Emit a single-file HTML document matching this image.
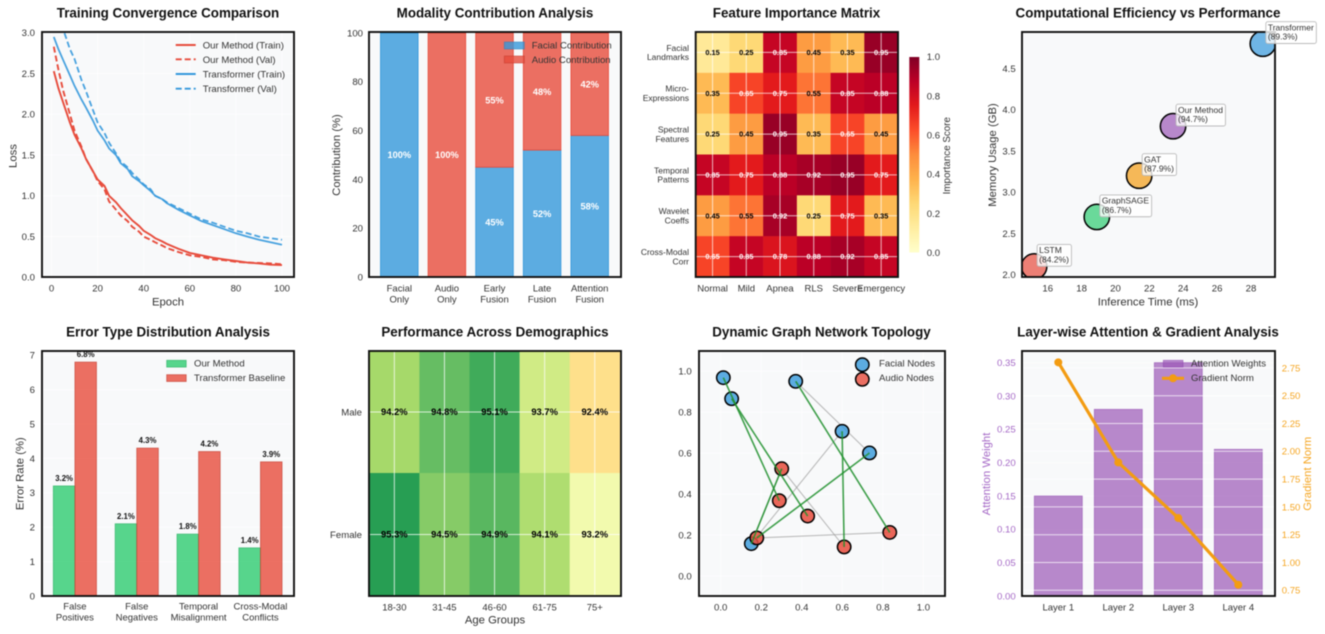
<!DOCTYPE html>
<html lang="en">
<head>
<meta charset="utf-8">
<title>Model Analysis Dashboard</title>
<style>
html,body{margin:0;padding:0;background:#fff;width:1325px;height:634px;overflow:hidden}
svg{display:block;filter:blur(.5px)}
text{font-family:"Liberation Sans",Arial,sans-serif;fill:#333}
.title{font-size:13.4px;font-weight:bold;fill:#111;text-anchor:middle}
.axl{font-size:11.3px;text-anchor:middle;fill:#333}
.tick{font-size:9.6px;fill:#333}
.leg{font-size:9.6px;fill:#333}
.cat{font-size:9.5px;text-anchor:middle;fill:#333}
.frame{fill:none;stroke:#111;stroke-width:1.9}
.bg{fill:#f8f9fa}
</style>
</head>
<body>
<svg id="dash" xmlns="http://www.w3.org/2000/svg" width="1325" height="634" viewBox="0 0 1325 634">
<defs>
<clipPath id="clip-p1"><rect x="42" y="32" width="252" height="245"/></clipPath>
<clipPath id="clip-p4"><rect x="1022" y="32" width="253" height="245"/></clipPath>
<linearGradient id="cbar" x1="0" y1="1" x2="0" y2="0">
<stop offset="0" stop-color="#ffffcc"/><stop offset=".125" stop-color="#ffeda0"/><stop offset=".25" stop-color="#fed976"/><stop offset=".375" stop-color="#feb24c"/><stop offset=".5" stop-color="#fd8d3c"/><stop offset=".625" stop-color="#fc4e2a"/><stop offset=".75" stop-color="#e31a1c"/><stop offset=".875" stop-color="#bd0026"/><stop offset="1" stop-color="#800026"/>
</linearGradient>
</defs>

<g id="p1">
<text class="title" x="168" y="17.5">Training Convergence Comparison</text>
<rect class="bg" x="42" y="32" width="252" height="245"/>
<g id="p1-marks"></g>
<rect class="frame" x="42" y="32" width="252" height="245"/>
<text class="axl" transform="translate(16.5,156) rotate(-90)">Loss</text>
<text class="axl" x="168" y="305.7">Epoch</text>
<g>
<line x1="175.7" x2="195.7" y1="45" y2="45" stroke="#e74c3c" stroke-width="1.9"/>
<line x1="175.7" x2="195.7" y1="59.3" y2="59.3" stroke="#e74c3c" stroke-width="1.9" stroke-dasharray="6 3"/>
<line x1="175.7" x2="195.7" y1="74" y2="74" stroke="#3498db" stroke-width="1.9"/>
<line x1="175.7" x2="195.7" y1="88.7" y2="88.7" stroke="#3498db" stroke-width="1.9" stroke-dasharray="6 3"/>
<text class="leg" x="202.7" y="48.5">Our Method (Train)</text>
<text class="leg" x="202.7" y="63">Our Method (Val)</text>
<text class="leg" x="202.7" y="77.5">Transformer (Train)</text>
<text class="leg" x="202.7" y="92">Transformer (Val)</text>
</g>
</g>

<g id="p2">
<text class="title" x="495" y="17.5">Modality Contribution Analysis</text>
<rect class="bg" x="369" y="32" width="252" height="245"/>
<g id="p2-marks"></g>
<rect class="frame" x="369" y="32" width="252" height="245"/>
<text class="axl" transform="translate(340,155) rotate(-90)">Contribution (%)</text>
<g>
<rect x="504.3" y="42" width="20" height="7" fill="#3498db" fill-opacity=".8" stroke="#2980b9" stroke-opacity=".6" stroke-width=".8"/>
<rect x="504.3" y="56" width="20" height="7" fill="#e74c3c" fill-opacity=".8" stroke="#c0392b" stroke-opacity=".6" stroke-width=".8"/>
<text class="leg" x="531.7" y="48.5">Facial Contribution</text>
<text class="leg" x="531.7" y="63">Audio Contribution</text>
</g>
</g>

<g id="p3">
<text class="title" x="796.5" y="17.5">Feature Importance Matrix</text>
<g id="p3-marks"></g>
<rect class="frame" x="695.7" y="32" width="202.3" height="245"/>
<rect x="909.3" y="57" width="10" height="195.5" fill="url(#cbar)"/>
<g id="p3-cbar"></g>
<text class="leg" style="font-size:9.8px" text-anchor="middle" transform="translate(950,155.7) rotate(-90)">Importance Score</text>
</g>

<g id="p4">
<text class="title" x="1148" y="17.5">Computational Efficiency vs Performance</text>
<rect class="bg" x="1022" y="32" width="253" height="245"/>
<g id="p4-marks" clip-path="url(#clip-p4)"></g>
<rect class="frame" x="1022" y="32" width="253" height="245"/>
<g id="p4-notes"></g>
<text class="axl" transform="translate(996,155) rotate(-90)">Memory Usage (GB)</text>
<text class="axl" x="1148" y="305.7">Inference Time (ms)</text>
</g>

<g id="p5">
<text class="title" x="168" y="336.5">Error Type Distribution Analysis</text>
<rect class="bg" x="42" y="351" width="252" height="245"/>
<g id="p5-marks"></g>
<rect class="frame" x="42" y="351" width="252" height="245"/>
<text class="axl" transform="translate(23.5,473.7) rotate(-90)">Error Rate (%)</text>
<g>
<rect x="166.7" y="360.3" width="19.5" height="6.8" fill="#2ecc71" fill-opacity=".8" stroke="#27ae60" stroke-opacity=".7" stroke-width=".8"/>
<rect x="166.7" y="374.7" width="19.5" height="6.8" fill="#e74c3c" fill-opacity=".8" stroke="#c0392b" stroke-opacity=".7" stroke-width=".8"/>
<text class="leg" x="194" y="366.5">Our Method</text>
<text class="leg" x="194" y="381">Transformer Baseline</text>
</g>
</g>

<g id="p6">
<text class="title" x="495" y="336.5">Performance Across Demographics</text>
<g id="p6-marks"></g>
<rect class="frame" x="369" y="351" width="252" height="245"/>
<text class="axl" x="495" y="623.7">Age Groups</text>
</g>

<g id="p7">
<text class="title" x="821.5" y="336.5">Dynamic Graph Network Topology</text>
<rect class="bg" x="699" y="351" width="246" height="245"/>
<g id="p7-marks"></g>
<rect class="frame" x="699" y="351" width="246" height="245"/>
<g>
<circle cx="862.3" cy="364.7" r="6.7" fill="#3498db" fill-opacity=".8" stroke="#000" stroke-width="1.5"/>
<circle cx="862.3" cy="379.3" r="6.7" fill="#e74c3c" fill-opacity=".8" stroke="#000" stroke-width="1.5"/>
<text class="leg" x="879" y="366.5">Facial Nodes</text>
<text class="leg" x="879" y="381">Audio Nodes</text>
</g>
</g>

<g id="p8">
<text class="title" x="1148" y="336.5">Layer-wise Attention &amp; Gradient Analysis</text>
<rect class="bg" x="1022" y="351" width="253" height="245"/>
<g id="p8-marks"></g>
<rect class="frame" x="1022" y="351" width="253" height="245"/>
<text class="axl" style="fill:#a569c6" transform="translate(990,474) rotate(-90)">Attention Weight</text>
<text class="axl" style="fill:#f5a623" transform="translate(1311,473.7) rotate(-90)">Gradient Norm</text>
<g>
<rect x="1163.3" y="360.3" width="19.7" height="6.8" fill="#9b59b6" fill-opacity=".7" stroke="#8e44ad" stroke-opacity=".6" stroke-width=".8"/>
<line x1="1162" x2="1184" y1="378.3" y2="378.3" stroke="#f39c12" stroke-width="3.2"/>
<circle cx="1173" cy="378.3" r="4" fill="#f39c12"/>
<text class="leg" x="1191" y="366.5">Attention Weights</text>
<text class="leg" x="1191" y="381">Gradient Norm</text>
</g>
</g>
</svg>

<script>
/* ---------- chart data ---------- */
const epochs = [1,3,5,8,10,13,15,18,20,23,25,28,30,33,35,38,40,43,45,48,50,55,60,65,70,75,80,85,90,95,100];
const ourTrainLoss = [2.53,2.32,2.15,1.9,1.75,1.58,1.45,1.3,1.2,1.12,1.0,0.92,0.85,0.76,0.7,0.63,0.57,0.52,0.48,0.44,0.41,0.35,0.3,0.27,0.24,0.22,0.2,0.18,0.17,0.155,0.15];
const ourValLoss = [2.83,2.55,2.3,2.0,1.8,1.6,1.45,1.3,1.18,1.08,0.93,0.83,0.76,0.69,0.62,0.56,0.5,0.46,0.43,0.39,0.36,0.31,0.27,0.25,0.22,0.21,0.19,0.18,0.175,0.17,0.16];
const transformerTrainLoss = [2.95,2.8,2.67,2.48,2.35,2.18,2.08,1.92,1.8,1.68,1.58,1.5,1.4,1.33,1.24,1.18,1.13,1.06,1.0,0.96,0.91,0.83,0.76,0.69,0.64,0.59,0.54,0.5,0.46,0.43,0.4];
const transformerValLoss = [3.3,3.17,3.05,2.8,2.68,2.42,2.28,2.05,1.9,1.77,1.65,1.52,1.42,1.35,1.28,1.2,1.14,1.08,1.0,0.96,0.92,0.85,0.78,0.71,0.67,0.62,0.57,0.54,0.5,0.48,0.46];
const lossTicks = ["0.0","0.5","1.0","1.5","2.0","2.5","3.0"];
const epochTicks = ["0","20","40","60","80","100"];

const modalityCategories = [["Facial","Only"],["Audio","Only"],["Early","Fusion"],["Late","Fusion"],["Attention","Fusion"]];
const facialShare = [100,0,45,52,58];
const audioShare = [0,100,55,48,42];
const shareTicks = ["0","20","40","60","80","100"];

const featureRows = [["Facial","Landmarks"],["Micro-","Expressions"],["Spectral","Features"],["Temporal","Patterns"],["Wavelet","Coeffs"],["Cross-Modal","Corr"]];
const featureCols = ["Normal","Mild","Apnea","RLS","Severe","Emergency"];
const importanceRow1 = [0.15,0.25,0.85,0.45,0.35,0.95];
const importanceRow2 = [0.35,0.65,0.75,0.55,0.85,0.88];
const importanceRow3 = [0.25,0.45,0.95,0.35,0.65,0.45];
const importanceRow4 = [0.85,0.75,0.88,0.92,0.95,0.75];
const importanceRow5 = [0.45,0.55,0.92,0.25,0.75,0.35];
const importanceRow6 = [0.65,0.85,0.78,0.88,0.92,0.85];
const importanceRows = [importanceRow1,importanceRow2,importanceRow3,importanceRow4,importanceRow5,importanceRow6];
const colorbarTicks = ["0.0","0.2","0.4","0.6","0.8","1.0"];

const modelNames = ["LSTM","GraphSAGE","GAT","Our Method","Transformer"];
const inferenceMs = [15.2,18.9,21.4,23.4,28.7];
const memoryGb = [2.1,2.7,3.2,3.8,4.8];
const modelAccuracy = [84.2,86.7,87.9,94.7,89.3];
const modelColors = ["#e74c3c","#2ecc71","#f39c12","#9b59b6","#3498db"];
const inferenceTicks = ["16","18","20","22","24","26","28"];
const memoryTicks = ["2.0","2.5","3.0","3.5","4.0","4.5"];

const errorCategories = [["False","Positives"],["False","Negatives"],["Temporal","Misalignment"],["Cross-Modal","Conflicts"]];
const ourErrors = [3.2,2.1,1.8,1.4];
const baselineErrors = [6.8,4.3,4.2,3.9];
const errorTicks = ["0","1","2","3","4","5","6","7"];

const ageGroups = ["18-30","31-45","46-60","61-75","75+"];
const genders = ["Male","Female"];
const maleScores = [94.2,94.8,95.1,93.7,92.4];
const femaleScores = [95.3,94.5,94.9,94.1,93.2];

const facialX = [0.013,0.054,0.37,0.599,0.734,0.151];
const facialY = [0.969,0.866,0.951,0.707,0.601,0.158];
const audioX = [0.301,0.289,0.429,0.178,0.609,0.834];
const audioY = [0.524,0.368,0.293,0.186,0.142,0.213];
const strongEdgeFacial = [0,1,2,3,4,5];
const strongEdgeAudio = [1,2,5,4,3,0];
const graphTicks = ["0.0","0.2","0.4","0.6","0.8","1.0"];

const layerNames = ["Layer 1","Layer 2","Layer 3","Layer 4"];
const attentionWeights = [0.15,0.28,0.35,0.22];
const gradientNorms = [2.8,1.9,1.4,0.8];
const attentionTicks = ["0.00","0.05","0.10","0.15","0.20","0.25","0.30","0.35"];
const gradientTicks = ["0.75","1.00","1.25","1.50","1.75","2.00","2.25","2.50","2.75"];

/* ---------- helpers ---------- */
const NS = "http://www.w3.org/2000/svg";
function add(parent, tag, attrs, text) {
  const node = document.createElementNS(NS, tag);
  for (const k in attrs) node.setAttribute(k, attrs[k]);
  if (text !== undefined) node.textContent = text;
  parent.appendChild(node);
  return node;
}
const $ = id => document.getElementById(id);
function yTicks(parent, labels, scale, edge, color) {
  labels.forEach(lbl => {
    const t = add(parent, "text", {x: edge, y: scale(parseFloat(lbl)) + 3.4, class: "tick", "text-anchor": "end"}, lbl);
    
    
    if (color) t.style.fill = color;
  });
}
function xTicks(parent, labels, scale, y) {
  labels.forEach(lbl => {
    const t = add(parent, "text", {x: scale(parseFloat(lbl)), y: y, class: "tick", "text-anchor": "middle"}, lbl);
    
    
  });
}
function hGrid(parent, labels, scale, x1, x2, op) {
  labels.forEach(lbl => {
    const g = add(parent, "line", {x1: x1, x2: x2, y1: scale(parseFloat(lbl)), y2: scale(parseFloat(lbl)), stroke: "#fff", "stroke-width": 1, "stroke-opacity": op});
    
    
  });
}
function vGrid(parent, labels, scale, y1, y2, op) {
  labels.forEach(lbl => {
    const g = add(parent, "line", {y1: y1, y2: y2, x1: scale(parseFloat(lbl)), x2: scale(parseFloat(lbl)), stroke: "#fff", "stroke-width": 1, "stroke-opacity": op});
    
    
  });
}
function catLabels(parent, lines, cx, y0, y1) {
  lines.forEach((pair, i) => {
    const a = add(parent, "text", {x: cx(i), y: y0, class: "cat"}, pair[0]);
    
    
    const b = add(parent, "text", {x: cx(i), y: y1, class: "cat"}, pair[1]);
    
    
  });
}
function lerpStops(stops, t) {
  t = Math.max(0, Math.min(1, t));
  const p = t * (stops.length - 1), i = Math.min(stops.length - 2, Math.floor(p)), f = p - i;
  const a = stops[i], b = stops[i + 1];
  const c = [0, 1, 2].map(k => Math.round(a[k] + (b[k] - a[k]) * f));
  return "rgb(" + c.join(",") + ")";
}
const ylOrRd = [[255,255,204],[255,237,160],[254,217,118],[254,178,76],[253,141,60],[252,78,42],[227,26,28],[189,0,38],[128,0,38]];
const rdYlGn = [[165,0,38],[215,48,39],[244,109,67],[253,174,97],[254,224,139],[255,255,191],[217,239,139],[166,217,106],[102,189,99],[26,152,80],[0,104,55]];

/* ---------- 1: training convergence ---------- */
(function () {
  const x = v => 51.5 + v * 2.305, y = v => 277.3 - v * 81.5;
  const root = $("p1-marks"), holder = $("p1");
  hGrid(root, lossTicks, y, 42, 294, .7);
  vGrid(root, epochTicks, x, 32, 277, .7);
  const clip = add(root, "g", {"clip-path": "url(#clip-p1)"});
  
  
  const pts = s => s.map((v, i) => x(epochs[i]).toFixed(1) + "," + y(v).toFixed(1)).join(" ");
  const a = add(clip, "polyline", {points: pts(transformerTrainLoss), fill: "none", stroke: "#3498db", "stroke-width": 1.8, "stroke-opacity": .9});
  
  
  const b = add(clip, "polyline", {points: pts(transformerValLoss), fill: "none", stroke: "#3498db", "stroke-width": 1.8, "stroke-dasharray": "6 3", "stroke-opacity": .9});
  
  
  const c = add(clip, "polyline", {points: pts(ourTrainLoss), fill: "none", stroke: "#e74c3c", "stroke-width": 1.9});
  
  
  const d = add(clip, "polyline", {points: pts(ourValLoss), fill: "none", stroke: "#e74c3c", "stroke-width": 1.9, "stroke-dasharray": "6 3"});
  
  
  yTicks(holder, lossTicks, y, 35);
  xTicks(holder, epochTicks, x, 291.7);
})();

/* ---------- 2: modality contribution ---------- */
(function () {
  const cx = i => 399.3 + i * 47.6, y = v => 277 - v * 2.44, w = 37.6;
  const root = $("p2-marks"), holder = $("p2");
  modalityCategories.forEach((c, i) => {
    if (facialShare[i] > 0) {
      const r = add(root, "rect", {x: cx(i) - w / 2, y: y(facialShare[i]), width: w, height: y(0) - y(facialShare[i]), fill: "#3498db", "fill-opacity": .8, stroke: "#3498db", "stroke-width": .8});
      
      
      const t = add(root, "text", {x: cx(i), y: y(facialShare[i] / 2) + 3.2, "text-anchor": "middle", "font-size": 9.2, "font-weight": "bold", style: "fill:#fff"}, facialShare[i] + "%");
      
      
    }
    if (audioShare[i] > 0) {
      const top = facialShare[i] + audioShare[i];
      const r = add(root, "rect", {x: cx(i) - w / 2, y: y(top), width: w, height: y(facialShare[i]) - y(top), fill: "#e74c3c", "fill-opacity": .8, stroke: "#e74c3c", "stroke-width": .8});
      
      
      const t = add(root, "text", {x: cx(i), y: y(facialShare[i] + audioShare[i] / 2) + 3.2, "text-anchor": "middle", "font-size": 9.2, "font-weight": "bold", style: "fill:#fff"}, audioShare[i] + "%");
      
      
    }
  });
  yTicks(holder, shareTicks, y, 363);
  catLabels(holder, modalityCategories, cx, 291.7, 302.7);
})();

/* ---------- 3: feature importance ---------- */
(function () {
  const cw = 33.72, rh = 245 / 6, x0 = 695.7, y0 = 32;
  const root = $("p3-marks"), holder = $("p3");
  importanceRows.forEach((row, r) => {
    row.forEach((v, c) => {
      const cell = add(root, "rect", {x: x0 + c * cw, y: y0 + r * rh, width: cw + .3, height: rh + .3, fill: lerpStops(ylOrRd, v)});
      
      
    });
  });
  featureCols.forEach((n, c) => {
    const g = add(root, "line", {x1: x0 + (c + .5) * cw, x2: x0 + (c + .5) * cw, y1: 32, y2: 277, stroke: "#fff", "stroke-opacity": .7});
    
    
    const t = add(holder, "text", {x: x0 + (c + .5) * cw, y: 291.7, class: "cat"}, n);
    
    
  });
  featureRows.forEach((pair, r) => {
    const cy = y0 + (r + .5) * rh;
    const g = add(root, "line", {x1: 696, x2: 898, y1: cy, y2: cy, stroke: "#fff", "stroke-opacity": .7});
    
    
    const a = add(holder, "text", {x: 689, y: cy - 1.6, "text-anchor": "end", "font-size": 8.5}, pair[0]);
    
    
    const b = add(holder, "text", {x: 689, y: cy + 7.8, "text-anchor": "end", "font-size": 8.5}, pair[1]);
    
    
  });
  importanceRows.forEach((row, r) => {
    row.forEach((v, c) => {
      const t = add(root, "text", {x: x0 + (c + .5) * cw, y: y0 + (r + .5) * rh + 2.6, "text-anchor": "middle", "font-size": 7.4, "font-weight": "bold", style: "fill:" + (v > 0.6 ? "#fff" : "#000")}, v.toFixed(2));
      
      
    });
  });
  const cbY = v => 252.7 - v * 196;
  colorbarTicks.forEach(lbl => {
    const t = add($("p3-cbar"), "text", {x: 926.7, y: cbY(parseFloat(lbl)) + 3.4, class: "tick"}, lbl);
    
    
  });
})();

/* ---------- 4: efficiency scatter ---------- */
(function () {
  const x = v => 1047.7 + (v - 16) * 16.94, y = v => 274.7 - (v - 2) * 82.5;
  const root = $("p4-marks"), notes = $("p4-notes"), holder = $("p4");
  modelNames.forEach((n, i) => {
    const c = add(root, "circle", {cx: x(inferenceMs[i]), cy: y(memoryGb[i]), r: 12.7, fill: modelColors[i], "fill-opacity": .7, stroke: "#000", "stroke-width": 1.5});
    
    
  });
  modelNames.forEach((n, i) => {
    const px = x(inferenceMs[i]) + 3, py = y(memoryGb[i]) - 22;
    const box = add(notes, "rect", {x: px, y: py, rx: 2, ry: 2, width: 40, height: 21.8, fill: "#fff", "fill-opacity": .8, stroke: "#bbb", "stroke-width": .9});
    
    
    const a = add(notes, "text", {x: px + 2, y: py + 8.6, "font-size": 8.5}, n);
    
    
    const b = add(notes, "text", {x: px + 2, y: py + 18, "font-size": 8.5}, "(" + modelAccuracy[i].toFixed(1) + "%)");
    
    
    const w = Math.max(a.getComputedTextLength(), b.getComputedTextLength());
    box.setAttribute("width", (w + 4.5).toFixed(1));
  });
  yTicks(holder, memoryTicks, y, 1015.7);
  xTicks(holder, inferenceTicks, x, 291.7);
})();

/* ---------- 5: error distribution ---------- */
(function () {
  const cx = i => 74.9 + i * 61.85, y = v => 596 - v * 34.4, w = 21.6;
  const root = $("p5-marks"), holder = $("p5");
  hGrid(root, errorTicks, y, 42, 294, .7);
  errorCategories.forEach((c, i) => {
    const r1 = add(root, "rect", {x: cx(i) - w, y: y(ourErrors[i]), width: w, height: y(0) - y(ourErrors[i]), fill: "#2ecc71", "fill-opacity": .8, stroke: "#27ae60", "stroke-opacity": .7, "stroke-width": .8});
    
    
    const r2 = add(root, "rect", {x: cx(i), y: y(baselineErrors[i]), width: w, height: y(0) - y(baselineErrors[i]), fill: "#e74c3c", "fill-opacity": .8, stroke: "#c0392b", "stroke-opacity": .7, "stroke-width": .8});
    
    
    const t1 = add(root, "text", {x: cx(i) - w / 2, y: y(ourErrors[i]) - 5, "text-anchor": "middle", "font-size": 7.8, "font-weight": "bold", style: "fill:#111"}, ourErrors[i].toFixed(1) + "%");
    
    
    const t2 = add(root, "text", {x: cx(i) + w / 2, y: y(baselineErrors[i]) - 5, "text-anchor": "middle", "font-size": 7.8, "font-weight": "bold", style: "fill:#111"}, baselineErrors[i].toFixed(1) + "%");
    
    
  });
  yTicks(holder, errorTicks, y, 35);
  catLabels(holder, errorCategories, cx, 609.7, 620.7);
})();

/* ---------- 6: demographics ---------- */
(function () {
  const x0 = 369.3, cw = 50.1, ys = [351, 473, 596];
  const root = $("p6-marks"), holder = $("p6");
  const rows = [maleScores, femaleScores];
  const color = v => lerpStops(rdYlGn, (v - 90) / 6);
  rows.forEach((row, r) => {
    row.forEach((v, c) => {
      const cell = add(root, "rect", {x: x0 + c * cw, y: ys[r], width: cw + .3, height: ys[r + 1] - ys[r] + .3, fill: color(v)});
      
      
    });
  });
  ageGroups.forEach((n, c) => {
    const px = x0 + (c + .5) * cw;
    const g = add(root, "line", {x1: px, x2: px, y1: 351, y2: 596, stroke: "#fff", "stroke-opacity": .75});
    
    
    const t = add(holder, "text", {x: px, y: 610.3, class: "cat"}, n);
    
    
  });
  genders.forEach((n, r) => {
    const cy = r === 0 ? 412 : 534.5;
    const g = add(root, "line", {x1: 369, x2: 621, y1: cy, y2: cy, stroke: "#fff", "stroke-opacity": .75});
    
    
    const t = add(holder, "text", {x: 362, y: cy + 3.4, "text-anchor": "end", class: "tick"}, n);
    
    
  });
  rows.forEach((row, r) => {
    row.forEach((v, c) => {
      const t = add(root, "text", {x: x0 + (c + .5) * cw, y: (r === 0 ? 412 : 534.5) + 3, "text-anchor": "middle", "font-size": 9.4, "font-weight": "bold", style: "fill:#000"}, v.toFixed(1) + "%");
      
      
    });
  });
})();

/* ---------- 7: graph topology ---------- */
(function () {
  const x = v => 720.7 + v * 202.7, y = v => 576 - v * 204.7;
  const root = $("p7-marks"), holder = $("p7");
  hGrid(root, graphTicks, y, 699, 945, .7);
  vGrid(root, graphTicks, x, 351, 596, .7);
  const fx = i => x(facialX[i]), fy = i => y(facialY[i]);
  const ax = i => x(audioX[i]), ay = i => y(audioY[i]);
  const weak = [
    [fx(2), fy(2), fx(4), fy(4)],
    [fx(3), fy(3), fx(5), fy(5)],
    [ax(0), ay(0), ax(4), ay(4)],
    [ax(3), ay(3), ax(5), ay(5)],
    [fx(5), fy(5), ax(0), ay(0)]
  ];
  weak.forEach(s => {
    const l = add(root, "line", {x1: s[0], y1: s[1], x2: s[2], y2: s[3], stroke: "#999", "stroke-width": 1.1, "stroke-opacity": .65});
    
    
  });
  facialX.forEach((v, i) => {
    const c = add(root, "circle", {cx: fx(i), cy: fy(i), r: 6.7, fill: "#3498db", "fill-opacity": .8, stroke: "#000", "stroke-width": 1.5});
    
    
  });
  audioX.forEach((v, i) => {
    const c = add(root, "circle", {cx: ax(i), cy: ay(i), r: 6.7, fill: "#e74c3c", "fill-opacity": .85, stroke: "#000", "stroke-width": 1.5});
    
    
  });
  strongEdgeFacial.forEach((f, i) => {
    const a = strongEdgeAudio[i];
    const l = add(root, "line", {x1: fx(f), y1: fy(f), x2: ax(a), y2: ay(a), stroke: "#1f8f2c", "stroke-width": 1.6, "stroke-opacity": .85});
    
    
  });
  yTicks(holder, graphTicks, y, 691.7);
  xTicks(holder, graphTicks, x, 610.3);
})();

/* ---------- 8: attention & gradient ---------- */
(function () {
  const cx = i => 1058.3 + i * 60, y = v => 596 - v * 666.7, yr = v => 590.3 - (v - 0.75) * 111.2, w = 48;
  const root = $("p8-marks"), holder = $("p8");
  hGrid(root, attentionTicks, y, 1022, 1275, .6);
  attentionWeights.forEach((v, i) => {
    const r = add(root, "rect", {x: cx(i) - w / 2, y: y(v), width: w, height: y(0) - y(v), fill: "#9b59b6", "fill-opacity": .7, stroke: "#8e44ad", "stroke-opacity": .6, "stroke-width": .8});
    
    
  });
  hGrid(root, gradientTicks, yr, 1022, 1275, .7);
  const line = add(root, "polyline", {points: gradientNorms.map((v, i) => cx(i) + "," + yr(v).toFixed(1)).join(" "), fill: "none", stroke: "#f39c12", "stroke-width": 3.2});
  
  
  gradientNorms.forEach((v, i) => {
    const c = add(root, "circle", {cx: cx(i), cy: yr(v), r: 4, fill: "#f39c12"});
    
    
  });
  yTicks(holder, attentionTicks, y, 1015.7, "#a569c6");
  gradientTicks.forEach(lbl => {
    const t = add(holder, "text", {x: 1281.7, y: yr(parseFloat(lbl)) + 3.4, class: "tick", style: "fill:#f5a623"}, lbl);
    
    
  });
  layerNames.forEach((n, i) => {
    const t = add(holder, "text", {x: cx(i), y: 610.3, class: "cat"}, n);
    
    
  });
})();
</script>
</body>
</html>
